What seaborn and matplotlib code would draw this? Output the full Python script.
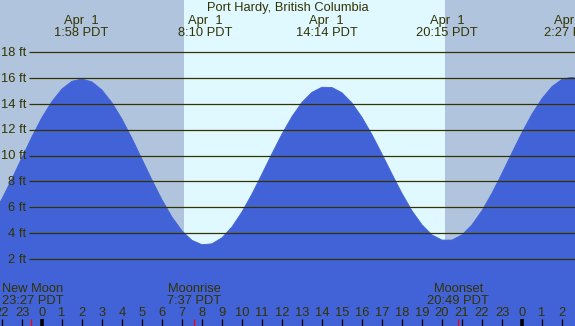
import numpy as np
import pandas as pd
import seaborn as sns
import matplotlib.pyplot as plt

# tide height (ft), every half hour (hours from midnight Apr 1)
hours = [-2.5, -2.0, -1.5, -1.0, -0.5, 0.0, 0.5, 1.0, 1.5, 2.0,
         2.5, 3.0, 3.5, 4.0, 4.5, 5.0, 5.5, 6.0, 6.5, 7.0,
         7.5, 8.0, 8.5, 9.0, 9.5, 10.0, 10.5, 11.0, 11.5, 12.0,
         12.5, 13.0, 13.5, 14.0, 14.5, 15.0, 15.5, 16.0, 16.5, 17.0,
         17.5, 18.0, 18.5, 19.0, 19.5, 20.0, 20.5, 21.0, 21.5, 22.0,
         22.5, 23.0, 23.5, 24.0, 24.5, 25.0, 25.5, 26.0, 26.5, 27.0]
heights = [5.28, 6.65, 8.21, 9.85, 11.46, 12.95, 14.19, 15.16, 15.75, 15.93,
           15.70, 15.07, 14.09, 12.82, 11.33, 9.72, 8.11, 6.58, 5.24, 4.17,
           3.44, 3.10, 3.17, 3.64, 4.48, 5.64, 7.03, 8.57, 10.15, 11.67,
           13.02, 14.12, 14.90, 15.29, 15.27, 14.86, 14.07, 12.96, 11.62, 10.12,
           8.57, 7.07, 5.73, 4.64, 3.86, 3.46, 3.46, 3.86, 4.64, 5.74,
           7.09, 8.62, 10.22, 11.78, 13.21, 14.41, 15.34, 15.90, 16.06, 15.80]

# high / low tide labels at the top
extreme_times = [1.967, 8.167, 14.233, 20.25, 26.45]
extreme_labels = ["1:58 PDT", "8:10 PDT", "14:14 PDT", "20:15 PDT", "2:27 PDT"]

sunrise, sunset = 7.1, 20.15
moon_times = [-0.55, 7.617, 20.817]
moon_names = ["New Moon", "Moonrise", "Moonset"]
moon_labels = ["23:27 PDT", "7:37 PDT", "20:49 PDT"]

levels = [2, 4, 6, 8, 10, 12, 14, 16, 18]

night = "#b0c4de"
day = "#e0f8ff"
water = "#4262d8"
ink = "#333300"

sns.set_theme(style="white")
plt.rcParams['font.family'] = ['Liberation Sans', 'DejaVu Sans']
fs = 9.3

x0, x1 = -2.1, 26.65
y0, y1 = -3.19, 22.04

fig = plt.figure(figsize=(5.75, 3.26), dpi=100)
ax = fig.add_axes([0, 0, 1, 1])
ax.set_xlim(x0, x1)
ax.set_ylim(y0, y1)
ax.set_axis_off()

ax.axvspan(x0, sunrise, color=night, lw=0, zorder=0)
ax.axvspan(sunrise, sunset, color=day, lw=0, zorder=0)
ax.axvspan(sunset, x1, color=night, lw=0, zorder=0)

df = pd.DataFrame({'hour': hours, 'ft': heights})
ax.fill_between(df['hour'], df['ft'], y0 - 1, color=water, lw=0, zorder=1)
sns.lineplot(data=df, x='hour', y='ft', color=water, lw=0.6, ax=ax, zorder=1)

ax.hlines(levels, -0.63, x1, color=ink, lw=0.9, zorder=2)
for lv in levels:
    ax.text(-0.8, lv - 0.29, f"{lv} ft", ha='right', va='baseline', fontsize=fs, color=ink, zorder=3)

ax.text(12.3, 21.19, "Port Hardy, British Columbia", ha='center', va='baseline',
        fontsize=fs, color=ink, zorder=3)
for t, lab in zip(extreme_times, extreme_labels):
    ax.text(t, 20.19, "Apr  1", ha='center', va='baseline', fontsize=fs, color=ink, zorder=3)
    ax.text(t, 19.26, lab, ha='center', va='baseline', fontsize=fs, color=ink, zorder=3)

for i, (t, name, lab) in enumerate(zip(moon_times, moon_names, moon_labels)):
    if i == 0:
        xt, ha = x0 + 0.1, 'left'
    else:
        xt, ha = t, 'center'
    ax.text(xt, -0.56, name, ha=ha, va='baseline', fontsize=fs, color=ink, zorder=3)
    ax.text(xt, -1.49, lab, ha=ha, va='baseline', fontsize=fs, color=ink, zorder=3)

# hour axis along the bottom
for h in range(-2, 27):
    ax.text(h, -2.42, str(h % 24), ha='center', va='baseline', fontsize=fs, color=ink, zorder=3)
    ax.vlines(h, -2.65, y0, color='black', lw=2.6 if h % 24 == 0 else 0.9, zorder=3)
ax.vlines(moon_times, -2.65, y0, color='red', lw=0.9, zorder=3)

fig.savefig("out.png", dpi=100)
